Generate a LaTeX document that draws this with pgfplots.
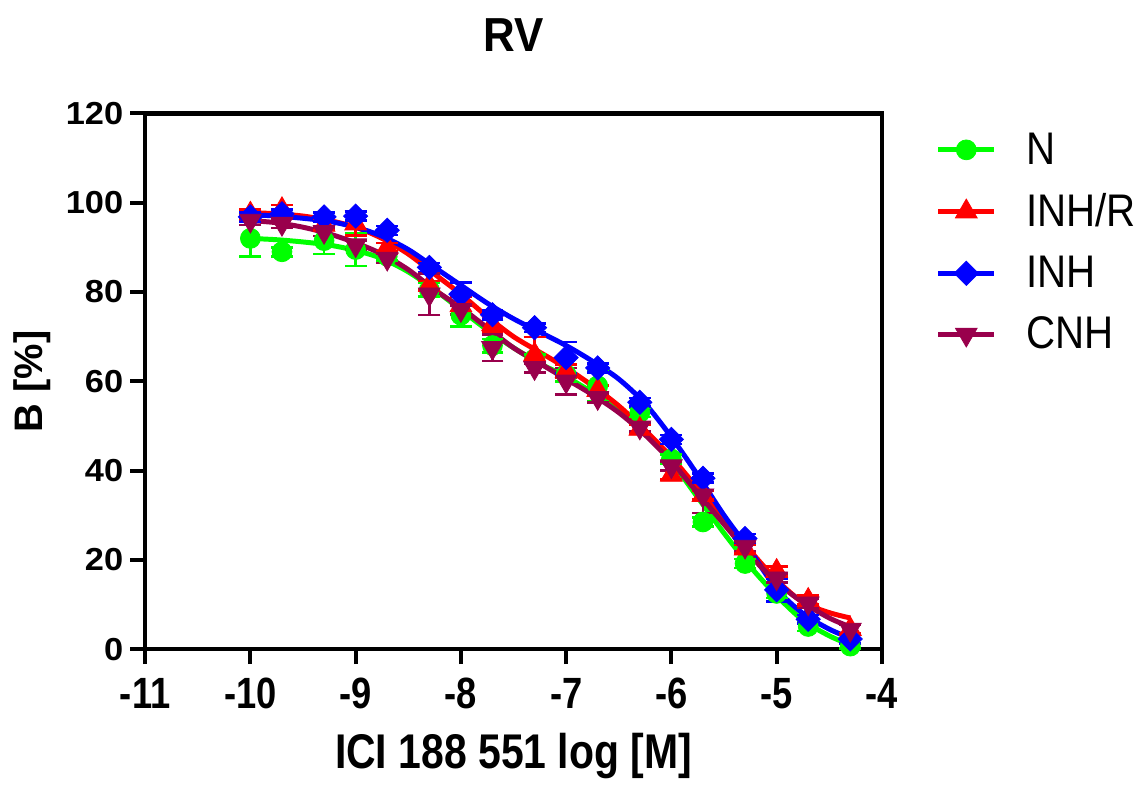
\documentclass[border=0pt]{standalone}
\usepackage{fontspec}
\setmainfont{Liberation Sans}
\usepackage{pgfplots}
\pgfplotsset{compat=1.18}
\definecolor{cN}{HTML}{00FF00}
\definecolor{cR}{HTML}{FF0000}
\definecolor{cI}{HTML}{0000FF}
\definecolor{cC}{HTML}{99004C}

\newcommand\xt[1]{\scalebox{0.83}[1]{#1}}
\newcommand\yt[1]{\scalebox{1.08}[1]{#1}}
\newcommand\lt[1]{\scalebox{0.88}[1]{#1}}

\tikzset{
  mN/.style={mark=*,mark size=5pt},
  mR/.style={mark=triangle*,mark size=6.3pt},
  mI/.style={mark=square*,mark size=4.3pt,mark options={rotate=45}},
  mC/.style={mark=triangle*,mark size=6.3pt,mark options={rotate=180}},
}
\pgfplotsset{
  fit/.style={line width=2.5pt,smooth,no markers,forget plot},
  pts/.style={only marks,
    error bars/y dir=both, error bars/y explicit,
    error bars/error bar style={line width=1.3pt,solid},
    error bars/error mark options={rotate=90,mark size=5.5pt,line width=1.3pt}},
  legimg/.style n args={2}{legend image code/.code={
    \draw[#1,line width=2.5pt] (0pt,0pt) -- (28pt,0pt);
    \draw[#1,#2] plot coordinates {(14pt,0pt)};}},
}

\begin{document}
\begin{tikzpicture}
\begin{axis}[
  name=ax,
  scale only axis, width=370.5pt, height=269.5pt,
  xmin=-11, xmax=-4, ymin=0, ymax=120,
  xtick={-11,-10,-9,-8,-7,-6,-5,-4},
  xticklabels={\xt{-11},\xt{-10},\xt{-9},\xt{-8},\xt{-7},\xt{-6},\xt{-5},\xt{-4}},
  ytick={0,20,40,60,80,100,120},
  yticklabels={\yt{0},\yt{20},\yt{40},\yt{60},\yt{80},\yt{100},\yt{120}},
  xtick pos=bottom, ytick pos=left,
  tick align=outside, major tick length=7.5pt,
  tick style={line width=2pt,black},
  axis line style={line width=2.2pt},
  xticklabel style={font=\bfseries\fontsize{22}{22}\selectfont,yshift=-3.5pt},
  yticklabel style={font=\bfseries\fontsize{16}{16}\selectfont},
  clip=false,
  legend style={at={(1,1)},anchor=north west,xshift=27pt,yshift=-9.5pt,
    draw=none,fill=none,inner sep=0pt,row sep=13.3pt,
    font=\fontsize{23}{23}\selectfont,
    nodes={inner sep=0pt},
    /tikz/every odd column/.append style={column sep=15pt}},
  legend cell align=left,
]
% fitted curves
\addplot[cN,fit] coordinates {
(-10,92) (-9.75,91.7) (-9.5,91.2) (-9.25,90.5) (-9,89.3) (-8.75,87.5)
(-8.5,84.5) (-8.25,80.5) (-8,76) (-7.75,71.5) (-7.5,67.5) (-7.25,64)
(-7,61) (-6.75,57.5) (-6.5,53.5) (-6.25,48.5) (-6,42) (-5.75,34)
(-5.5,26) (-5.25,18.5) (-5,12) (-4.75,6.5) (-4.5,3) (-4.3,1)};
\addplot[cR,fit] coordinates {
(-10,97.8) (-9.75,97.5) (-9.5,97) (-9.25,96) (-9,94.5) (-8.75,92)
(-8.5,88.5) (-8.25,84) (-8,79.5) (-7.75,74.5) (-7.5,70) (-7.25,66.5)
(-7,63) (-6.75,59) (-6.5,54.5) (-6.25,49) (-6,43) (-5.75,36)
(-5.5,29) (-5.25,22) (-5,15.5) (-4.75,10.5) (-4.5,8.2) (-4.3,7)};
\addplot[cI,fit] coordinates {
(-10,97.3) (-9.75,97) (-9.5,96.5) (-9.25,95.8) (-9,94.5) (-8.75,92.5)
(-8.5,89.5) (-8.25,85.5) (-8,81.5) (-7.75,77.5) (-7.5,74) (-7.25,71)
(-7,68) (-6.75,64.5) (-6.5,60.5) (-6.25,55) (-6,47.5) (-5.75,39)
(-5.5,30) (-5.25,22) (-5,13.5) (-4.75,8) (-4.5,4.5) (-4.3,2.5)};
\addplot[cC,fit] coordinates {
(-10,96) (-9.75,95.5) (-9.5,94.5) (-9.25,93) (-9,91) (-8.75,88.5)
(-8.5,85) (-8.25,80.5) (-8,76.5) (-7.75,72) (-7.5,67.5) (-7.25,64)
(-7,60.5) (-6.75,57) (-6.5,53) (-6.25,48) (-6,42) (-5.75,35)
(-5.5,28) (-5.25,21) (-5,15) (-4.75,10.5) (-4.5,7) (-4.3,5)};

% data points
\addplot[cN,mN,pts,legimg={cN}{mN}] coordinates {
(-10,92) +- (0,4) (-9.7,89) +- (0,1) (-9.3,91.5) +- (0,3) (-9,89.5) +- (0,3.7)
(-8.7,88) +- (0,1) (-8.3,80.5) +- (0,1.5) (-8,74.8) +- (0,2.5) (-7.7,68) +- (0,1.5)
(-7.3,65) +- (0,1) (-7,61.5) +- (0,1.5) (-6.7,59) +- (0,3.5) (-6.3,53) +- (0,1)
(-6,42.6) +- (0,1) (-5.7,28.5) +- (0,1) (-5.3,19.2) +- (0,1) (-5,12.5) +- (0,1)
(-4.7,5.1) +- (0,1) (-4.3,0.7) +- (0,0.5)};
\addlegendentry{\lt{N}}
\addplot[cR,mR,pts,legimg={cR}{mR}] coordinates {
(-10,97.5) +- (0,1) (-9.7,98.5) +- (0,1) (-9.3,95) +- (0,1) (-9,95.3) +- (0,2.7)
(-8.7,90) +- (0,1) (-8.3,81.5) +- (0,1) (-8,77) +- (0,2) (-7.7,72.7) +- (0,1.5)
(-7.3,66) +- (0,3.9) (-7,62.3) +- (0,1.5) (-6.7,58) +- (0,1) (-6.3,49.3) +- (0,1)
(-6,39) +- (0,1) (-5.7,34.5) +- (0,1) (-5.3,22.5) +- (0,1) (-5,17.5) +- (0,1)
(-4.7,11) +- (0,1) (-4.3,4.5) +- (0,1)};
\addlegendentry{\lt{INH/R}}
\addplot[cI,mI,pts,legimg={cI}{mI}] coordinates {
(-10,96.8) +- (0,1) (-9.7,97.5) +- (0,1) (-9.3,96.8) +- (0,1) (-9,97) +- (0,1)
(-8.7,93.8) +- (0,1) (-8.3,85.5) +- (0,1) (-8,79.5) +- (0,2.6) (-7.7,74.9) +- (0,1)
(-7.3,72) +- (0,1) (-7,65.3) +- (0,3.5) (-6.7,63) +- (0,1) (-6.3,55.3) +- (0,1)
(-6,47) +- (0,1) (-5.7,38.3) +- (0,1) (-5.3,24.8) +- (0,1) (-5,13.3) +- (0,2.6)
(-4.7,6.7) +- (0,1) (-4.3,2.3) +- (0,1)};
\addlegendentry{\lt{INH}}
\addplot[cC,mC,pts,legimg={cC}{mC}] coordinates {
(-10,96) +- (0,1) (-9.7,95.3) +- (0,1) (-9.3,93.5) +- (0,1) (-9,90.5) +- (0,1)
(-8.7,87.5) +- (0,1) (-8.3,79.5) +- (0,4.7) (-8,76) +- (0,1) (-7.7,67.5) +- (0,3)
(-7.3,63) +- (0,1) (-7,60) +- (0,3) (-6.7,56.3) +- (0,1) (-6.3,49.7) +- (0,1)
(-6,41) +- (0,1) (-5.7,34.5) +- (0,4) (-5.3,23) +- (0,1) (-5,15.9) +- (0,1)
(-4.7,10.3) +- (0,1) (-4.3,4.4) +- (0,1)};
\addlegendentry{\lt{CNH}}

\node[anchor=base,yshift=31pt,font=\bfseries\fontsize{24}{24}\selectfont]
  at (rel axis cs:0.5,1) {\scalebox{0.92}[1]{RV}};
\node[anchor=base,yshift=-60pt,font=\bfseries\fontsize{24.5}{24.5}\selectfont]
  at (rel axis cs:0.5,0) {\scalebox{0.84}[1]{ICI 188 551 log [M]}};
\node[xshift=-57pt,rotate=90,anchor=center,font=\bfseries\fontsize{20}{20}\selectfont]
  at (rel axis cs:0,0.5) {B [\%]};
\end{axis}
\path[use as bounding box] (ax.south west) ++(-73pt,-62.5pt) rectangle ([shift={(124.5pt,57pt)}]ax.north east);
\end{tikzpicture}
\end{document}
